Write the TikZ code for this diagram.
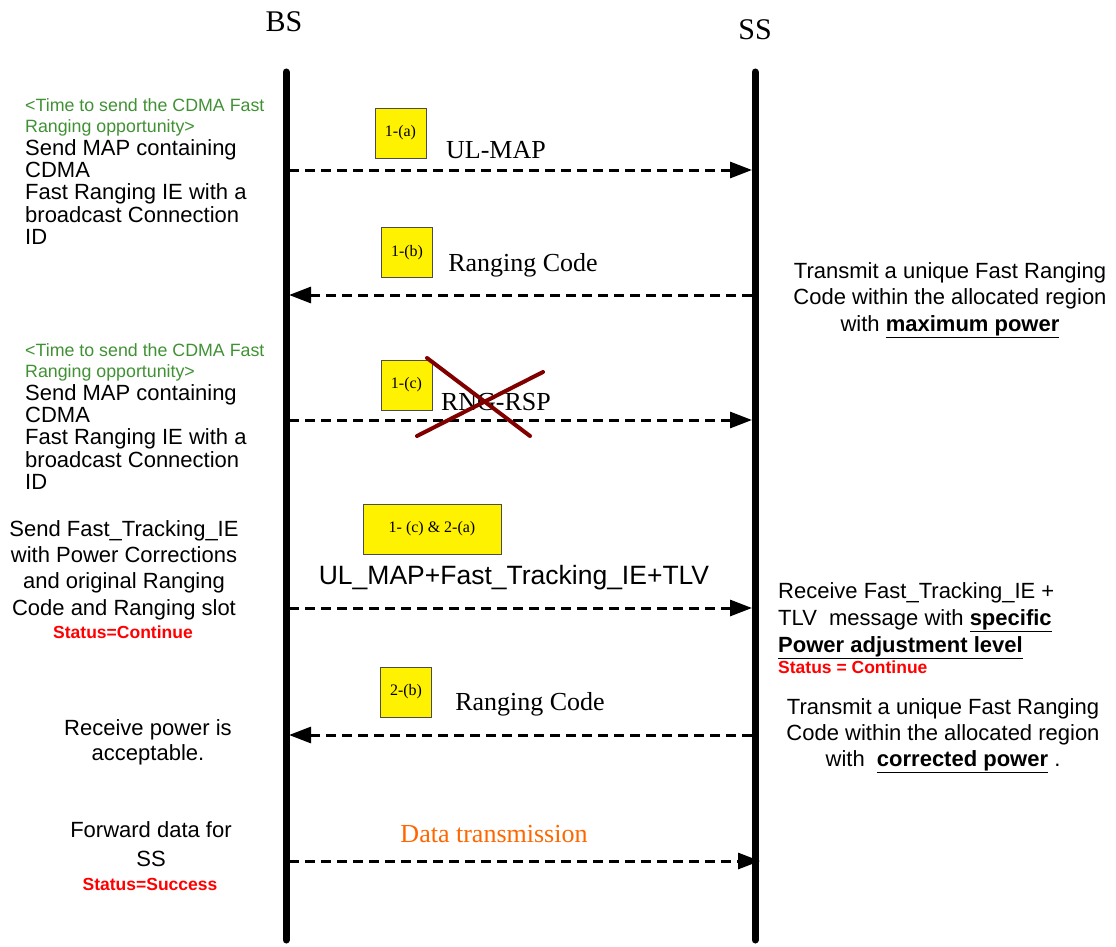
\documentclass[tikz,border=0pt]{standalone}
\usepackage{fontspec}
\setmainfont{Liberation Serif}
\setsansfont{Liberation Sans}
\usetikzlibrary{arrows.meta}
\definecolor{ygreen}{RGB}{64,145,52}
\definecolor{xred}{RGB}{128,0,0}
\definecolor{dataorange}{RGB}{255,102,0}
\definecolor{statred}{RGB}{255,0,0}
\begin{document}
\begin{tikzpicture}[x=1pt,y=-1pt,
  life/.style={line width=7pt, line cap=round},
  msg/.style={line width=3pt, dash pattern=on 10pt off 6pt, -{Triangle[length=22pt,width=16pt]}},
  tagbox/.style={draw=black!70, fill=yellow, line width=0.6pt, font=\fontsize{16}{18}\selectfont, inner sep=0pt, minimum height=50pt, minimum width=51pt},
  ent/.style={font=\fontsize{30}{32}\selectfont, inner sep=0pt},
  lbl/.style={font=\fontsize{26}{28}\selectfont, inner sep=0pt},
  sanslbl/.style={font=\sffamily\fontsize{26.5}{28}\selectfont, inner sep=0pt},
  greentxt/.style={font=\sffamily\fontsize{17.8}{21.5}\selectfont, text=ygreen, align=left, anchor=north west, inner sep=0pt},
  blacktxt/.style={font=\sffamily\fontsize{22}{22.3}\selectfont, align=left, anchor=north west, inner sep=0pt},
  ctxt/.style={font=\sffamily\fontsize{22}{26.5}\selectfont, align=center, anchor=north, inner sep=0pt},
  status/.style={font=\sffamily\bfseries\fontsize{17.5}{19}\selectfont, text=statred, inner sep=0pt},
  cross/.style={draw=xred, line width=4pt, line cap=round}
]
\useasboundingbox (0,0) rectangle (1116,947);

% entities
\node[ent] (BS) at (284,22) {BS};
\node[ent] (SS) at (755,30) {SS};

% lifelines
\coordinate (bstop) at (286,72);
\coordinate (bsbot) at (286,940);
\coordinate (sstop) at (755,72);
\coordinate (ssbot) at (755,940);
\draw[life] (bstop) -- (bsbot);
\draw[life] (sstop) -- (ssbot);

% message anchor points
\coordinate (b1) at (289,170);  \coordinate (s1) at (752,170);
\coordinate (b2) at (289,295);  \coordinate (s2) at (752,295);
\coordinate (b3) at (289,420);  \coordinate (s3) at (752,420);
\coordinate (b4) at (289,608);  \coordinate (s4) at (752,608);
\coordinate (b5) at (289,735);  \coordinate (s5) at (752,735);
\coordinate (b6) at (289,861);  \coordinate (s6) at (760,861);

\draw[msg] (b1) -- (s1);
\draw[msg] (s2) -- (b2);
\draw[msg] (b3) -- (s3);
\draw[msg] (b4) -- (s4);
\draw[msg] (s5) -- (b5);
\draw[msg] (b6) -- (s6);

% tags
\node[tagbox] (t1) at (400.5,133) {1-(a)};
\node[tagbox] (t2) at (407,252.5) {1-(b)};
\node[tagbox] (t3) at (406.5,385) {1-(c)};
\node[tagbox, minimum width=138pt] (t4) at (432,529) {1- (c) \& 2-(a)};
\node[tagbox] (t5) at (406,692) {2-(b)};

% message labels
\node[lbl] (m1) at (496,150) {UL-MAP};
\node[lbl] (m2) at (523,265) {Ranging Code};
\node[lbl] (m3) at (496,402) {RNG-RSP};
\node[sanslbl] (m4) at (514,578) {UL\_MAP+Fast\_Tracking\_IE+TLV};
\node[lbl] (m5) at (530,704) {Ranging Code};
\node[lbl, text=dataorange] (m6) at (494,834) {Data transmission};

% cross over RNG-RSP
\coordinate (x1a) at (427,358); \coordinate (x1b) at (530,436);
\coordinate (x2a) at (543,372); \coordinate (x2b) at (417,436);
\draw[cross] (x1a) -- (x1b);
\draw[cross] (x2a) -- (x2b);

% left side texts
\node[greentxt] (g1) at (25,98) {<Time to send the CDMA Fast\\Ranging opportunity>};
\node[blacktxt] (k1) at (25,139) {Send MAP containing\\CDMA\\Fast Ranging IE with a\\broadcast Connection\\ID};
\node[greentxt] (g2) at (25,343) {<Time to send the CDMA Fast\\Ranging opportunity>};
\node[blacktxt] (k2) at (25,384) {Send MAP containing\\CDMA\\Fast Ranging IE with a\\broadcast Connection\\ID};
\node[ctxt, font=\sffamily\fontsize{22}{26.3}\selectfont] (k3) at (124,520) {Send Fast\_Tracking\_IE\\with Power Corrections\\and original Ranging\\Code and Ranging slot};
\node[status] (st1) at (123,632) {Status=Continue};
\node[ctxt, font=\sffamily\fontsize{22}{25}\selectfont] (k4) at (148,719) {Receive power is\\acceptable.};
\node[ctxt, font=\sffamily\fontsize{22}{29}\selectfont] (k5) at (151,821) {Forward data for\\SS};
\node[status] (st2) at (150,884) {Status=Success};

% right side texts
\node[ctxt] (r1) at (950,262) {Transmit a unique Fast Ranging\\Code within the allocated region\\with \underline{\textbf{maximum power}}};
\node[blacktxt, font=\sffamily\fontsize{22}{27}\selectfont] (r2) at (778,582) {Receive Fast\_Tracking\_IE +\\TLV\ \ message with \underline{\textbf{specific}}\\\underline{\textbf{Power adjustment level}}};
\node[status, anchor=west] (st3) at (778,667) {Status = Continue};
\node[ctxt, font=\sffamily\fontsize{22}{26}\selectfont] (r3) at (943,698) {Transmit a unique Fast Ranging\\Code within the allocated region\\with\ \ \underline{\textbf{corrected power}} .};
\end{tikzpicture}
\end{document}
